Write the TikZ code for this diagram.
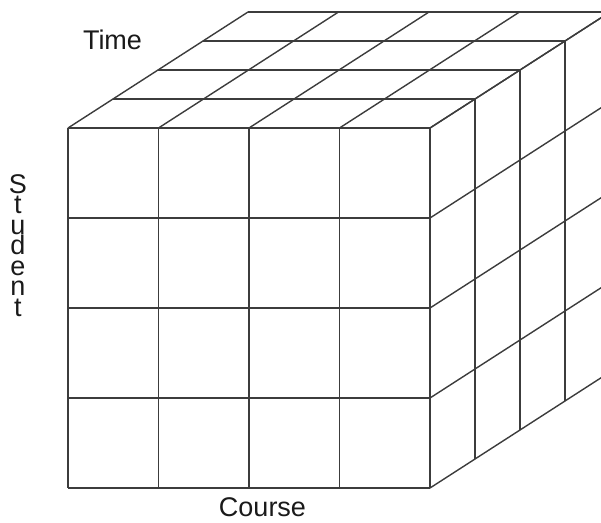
\documentclass[tikz,border=0pt]{standalone}
\usepackage{fontspec}
\setmainfont{Liberation Sans}
\usepackage{tikz}
\usetikzlibrary{positioning}
\definecolor{kenarGri}{HTML}{3C3C3C}
\definecolor{yaziSiyah}{HTML}{1A1A1A}

\begin{document}
\begin{tikzpicture}[x=1pt, y=-1pt, every node/.style={font=\fontsize{27}{20.5}\selectfont, text=yaziSiyah, inner sep=0pt},
  kenar/.style={draw=kenarGri, line width=1.4pt}]
\useasboundingbox (0,0) rectangle (601,522);
\begin{scope}
\clip (0,0) rectangle (601,522);
% front face
\foreach \i in {0,...,4} {
  \draw[kenar] (68+90.5*\i,128)--(68+90.5*\i,488);
  \draw[kenar] (68,128+90*\i)--(430,128+90*\i);
}
% top face
\foreach \k in {1,...,4} {
  \draw[kenar] (68+45*\k,128-29*\k)--(430+45*\k,128-29*\k);
}
\foreach \i in {0,...,4} {
  \draw[kenar] (68+90.5*\i,128)--(248+90.5*\i,12);
}
% right face
\foreach \k in {1,...,4} {
  \draw[kenar] (430+45*\k,128-29*\k)--(430+45*\k,488-29*\k);
}
\foreach \j in {0,...,4} {
  \draw[kenar] (430,128+90*\j)--(610,12+90*\j);
}
\end{scope}
\node (time) at (112.5,40) {Time};
\node[align=center] (student) at (18,245.5) {S\\t\\u\\d\\e\\n\\t};
\node (course) at (262.5,507.5) {Course};
\end{tikzpicture}
\end{document}
